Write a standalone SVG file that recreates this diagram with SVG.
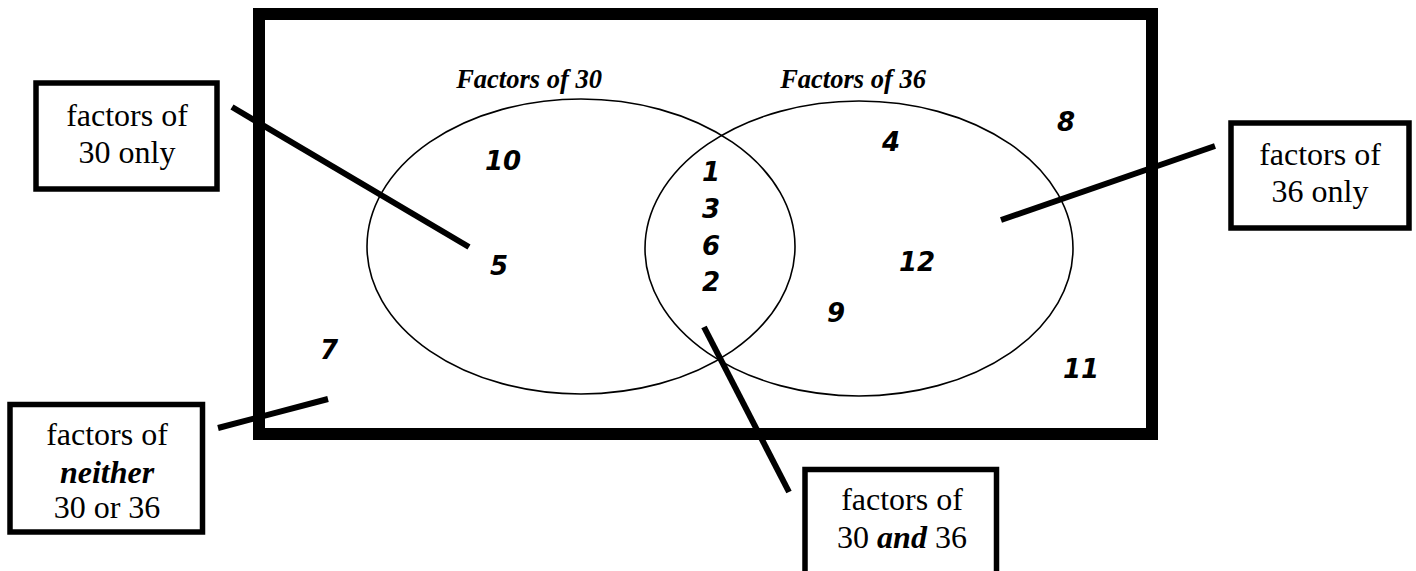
<svg xmlns="http://www.w3.org/2000/svg" width="1416" height="571" viewBox="0 0 1416 571">
<style>
.box{fill:#fff;stroke:#000;stroke-width:5.5}
.lbl{font-family:"Liberation Serif","Times New Roman",serif;font-size:32px;fill:#000;text-anchor:middle}
.em{font-weight:bold;font-style:italic}
.title{font-family:"Liberation Serif","Times New Roman",serif;font-size:26.5px;font-weight:bold;font-style:italic;fill:#000;text-anchor:middle}
.num{font-family:"DejaVu Sans",sans-serif;font-size:26px;font-weight:bold;font-style:italic;fill:#000;text-anchor:middle}
.set{fill:none;stroke:#000;stroke-width:1.6}
.conn line{stroke:#000;stroke-width:6}
</style>
<rect width="1416" height="571" fill="#fff"/>
<g id="frame">
<rect x="259" y="14" width="893" height="420" fill="none" stroke="#000" stroke-width="12"/>
</g>
<g id="set30">
<ellipse class="set" cx="581" cy="246.5" rx="214" ry="147.5"/>
<text class="title" x="529" y="88">Factors of 30</text>
</g>
<g id="set36">
<ellipse class="set" cx="859" cy="248.5" rx="214" ry="147.5"/>
<text class="title" x="853" y="88">Factors of 36</text>
</g>
<g id="numbers">
<text class="num" x="503" y="170">10</text>
<text class="num" x="499" y="275">5</text>
<text class="num" x="711" y="181">1</text>
<text class="num" x="711" y="218">3</text>
<text class="num" x="711" y="255">6</text>
<text class="num" x="711" y="291">2</text>
<text class="num" x="891" y="151">4</text>
<text class="num" x="917" y="271">12</text>
<text class="num" x="1066" y="131">8</text>
<text class="num" x="836" y="322">9</text>
<text class="num" x="1081" y="378">11</text>
<text class="num" x="329" y="359">7</text>
</g>
<g id="connectors" class="conn">
<line x1="232" y1="107" x2="469" y2="247"/>
<line x1="1001" y1="220" x2="1215" y2="146"/>
<line x1="218" y1="428" x2="328" y2="399"/>
<line x1="704" y1="327" x2="789" y2="492"/>
</g>
<g id="box30only">
<rect class="box" x="36" y="83" width="181" height="106"/>
<text class="lbl" x="127" y="126">factors of</text>
<text class="lbl" x="127" y="163">30 only</text>
</g>
<g id="box36only">
<rect class="box" x="1231" y="123" width="178" height="105"/>
<text class="lbl" x="1320" y="165">factors of</text>
<text class="lbl" x="1320" y="202">36 only</text>
</g>
<g id="boxneither">
<rect class="box" x="10" y="404.5" width="192.5" height="127.5"/>
<text class="lbl" x="107" y="445">factors of</text>
<text class="lbl em" x="107" y="483">neither</text>
<text class="lbl" x="107" y="518">30 or 36</text>
</g>
<g id="boxboth">
<rect class="box" x="805" y="469.5" width="191.5" height="110"/>
<text class="lbl" x="902" y="510">factors of</text>
<text class="lbl" x="902" y="548">30 <tspan class="em">and</tspan> 36</text>
</g>
</svg>
